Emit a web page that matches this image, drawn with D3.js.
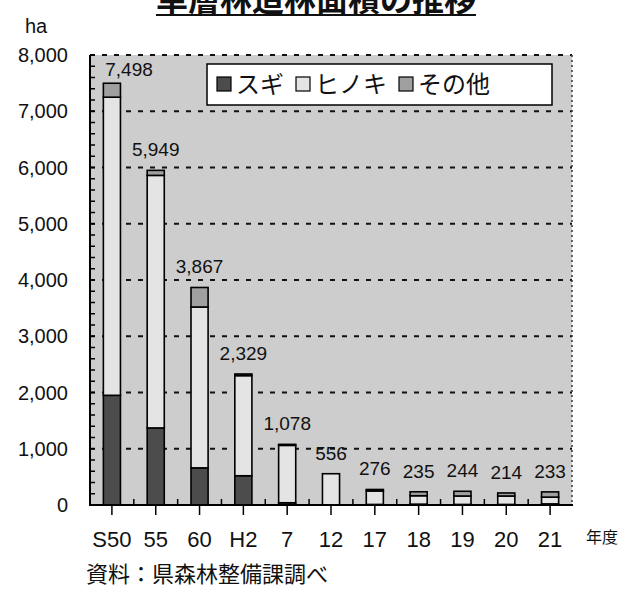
<!DOCTYPE html>
<html>
<head>
<meta charset="utf-8">
<script src="https://cdn.jsdelivr.net/npm/d3@7"></script>
<style>
    html, body { margin: 0; padding: 0; background: #fff; }
    svg { display: block; }
    .lat { font-family: "Liberation Sans", Arial, sans-serif; }
    .jp { font-family: "Noto Sans CJK JP", sans-serif; }
</style>
</head>
<body>
<svg id="chart" width="620" height="589"></svg>
<script>
// data (ha)
var categories = ['S50', '55', '60', 'H2', '7', '12', '17', '18', '19', '20', '21'];
var totals = [7498, 5949, 3867, 2329, 1078, 556, 276, 235, 244, 214, 233];
var sugi = [1950, 1370, 660, 520, 40, 0, 10, 15, 10, 10, 20];
var hinoki = [5300, 4490, 2860, 1780, 1020, 556, 240, 150, 150, 150, 120];
var sonota = [248, 89, 347, 29, 18, 0, 26, 70, 84, 54, 93];
var seriesNames = ['スギ', 'ヒノキ', 'その他'];
var yTicks = [0, 1000, 2000, 3000, 4000, 5000, 6000, 7000, 8000];

var svg = d3.select('#chart');
var x0 = 90, x1 = 572, yTop = 55, yBottom = 505;

var x = d3.scaleBand().domain(categories).range([x0, x1]).paddingInner(0.61).paddingOuter(0.305);
var y = d3.scaleLinear().domain([0, 8000]).range([yBottom, yTop]);
var fmt = d3.format(',');

var fills = { 'スギ': '#4c4c4c', 'ヒノキ': '#e4e4e4', 'その他': '#a0a0a0' };

// plot background
svg.append('rect')
    .attr('x', x0).attr('y', yTop)
    .attr('width', x1 - x0).attr('height', yBottom - yTop)
    .attr('fill', '#cdcdcd');

// dashed grid
svg.append('g').selectAll('line')
    .data(yTicks.filter(function (d) { return d > 0; }))
    .join('line')
    .attr('x1', x0).attr('x2', x1)
    .attr('y1', function (d) { return y(d); })
    .attr('y2', function (d) { return y(d); })
    .attr('stroke', '#111').attr('stroke-width', 2)
    .attr('stroke-dasharray', '5,7');

// right frame, dotted
svg.append('line')
    .attr('x1', x1).attr('x2', x1).attr('y1', yTop).attr('y2', yBottom)
    .attr('stroke', '#333').attr('stroke-width', 1.5)
    .attr('stroke-dasharray', '2,3');

// stacked bars
var rows = categories.map(function (c, i) {
    return { cat: c, 'スギ': sugi[i], 'ヒノキ': hinoki[i], 'その他': sonota[i] };
});
var stacked = d3.stack().keys(seriesNames)(rows);

svg.append('g').selectAll('g')
    .data(stacked)
    .join('g')
    .attr('fill', function (s) { return fills[s.key]; })
    .selectAll('rect')
    .data(function (s) { return s.filter(function (d) { return d[1] > d[0]; }); })
    .join('rect')
    .attr('x', function (d) { return x(d.data.cat); })
    .attr('width', x.bandwidth())
    .attr('y', function (d) { return y(d[1]); })
    .attr('height', function (d) { return y(d[0]) - y(d[1]); })
    .attr('stroke', '#000').attr('stroke-width', 1.6);

// total labels
svg.append('g').selectAll('text')
    .data(totals)
    .join('text')
    .attr('class', 'lat')
    .attr('x', function (d, i) {
        var cx = x(categories[i]) + x.bandwidth() / 2;
        return Math.max(cx, x0 + 39);
    })
    .attr('y', function (d) { return Math.max(y(d) - 14, yTop + 21); })
    .attr('text-anchor', 'middle')
    .attr('font-size', 19)
    .attr('fill', '#111')
    .text(function (d) { return fmt(d); });

// axes lines
svg.append('line').attr('x1', x0).attr('x2', x0).attr('y1', yTop).attr('y2', yBottom)
    .attr('stroke', '#000').attr('stroke-width', 2);
svg.append('line').attr('x1', x0 - 1).attr('x2', x1 + 1).attr('y1', yBottom).attr('y2', yBottom)
    .attr('stroke', '#000').attr('stroke-width', 2);

// y minor ticks (inside)
svg.append('g').selectAll('line')
    .data(d3.range(0, 8001, 200))
    .join('line')
    .attr('x1', x0).attr('x2', x0 + 5)
    .attr('y1', function (d) { return y(d); })
    .attr('y2', function (d) { return y(d); })
    .attr('stroke', '#000').attr('stroke-width', 1.5);

// y labels
svg.append('g').selectAll('text')
    .data(yTicks)
    .join('text')
    .attr('class', 'lat')
    .attr('x', 68)
    .attr('y', function (d) { return y(d) + 7; })
    .attr('text-anchor', 'end')
    .attr('font-size', 20)
    .attr('fill', '#111')
    .text(function (d) { return fmt(d); });

// x ticks: down at centres, short up between bars
svg.append('g').selectAll('line')
    .data(categories)
    .join('line')
    .attr('x1', function (d) { return x(d) + x.bandwidth() / 2; })
    .attr('x2', function (d) { return x(d) + x.bandwidth() / 2; })
    .attr('y1', yBottom).attr('y2', yBottom + 10)
    .attr('stroke', '#000').attr('stroke-width', 1.5);
svg.append('g').selectAll('line')
    .data(categories.slice(1))
    .join('line')
    .attr('x1', function (d) { return x(d) - x.step() * x.paddingInner() / 2; })
    .attr('x2', function (d) { return x(d) - x.step() * x.paddingInner() / 2; })
    .attr('y1', yBottom).attr('y2', yBottom - 6)
    .attr('stroke', '#000').attr('stroke-width', 1.5);

// x labels
svg.append('g').selectAll('text')
    .data(categories)
    .join('text')
    .attr('class', 'lat')
    .attr('x', function (d) { return x(d) + x.bandwidth() / 2; })
    .attr('y', 547)
    .attr('text-anchor', 'middle')
    .attr('font-size', 22)
    .attr('fill', '#111')
    .text(function (d) { return d; });

svg.append('text').attr('class', 'jp')
    .attr('x', 586).attr('y', 543)
    .attr('font-size', 16).attr('fill', '#111')
    .text('年度');

svg.append('text').attr('class', 'lat')
    .attr('x', 25).attr('y', 33)
    .attr('font-size', 20).attr('fill', '#111')
    .text('ha');

// title, cut off at the top edge as in the source
var title = svg.append('text').attr('class', 'jp')
    .attr('x', 316).attr('y', 11)
    .attr('text-anchor', 'middle')
    .attr('font-size', 32).attr('font-weight', 'bold')
    .attr('fill', '#111')
    .text('単層林造林面積の推移');
var tw = title.node().getComputedTextLength();
svg.append('rect')
    .attr('x', 316 - tw / 2).attr('y', 14)
    .attr('width', tw).attr('height', 2)
    .attr('fill', '#111');

svg.append('text').attr('class', 'jp')
    .attr('x', 86).attr('y', 582)
    .attr('font-size', 22).attr('fill', '#111')
    .text('資料：県森林整備課調べ');

// legend
var legend = svg.append('g').attr('transform', 'translate(207,64)');
legend.append('rect')
    .attr('width', 345).attr('height', 41)
    .attr('fill', '#fff').attr('stroke', '#000').attr('stroke-width', 1.5);
var lx = 10;
seriesNames.forEach(function (name) {
    legend.append('rect')
        .attr('x', lx).attr('y', 13)
        .attr('width', 14).attr('height', 14)
        .attr('fill', fills[name]).attr('stroke', '#000').attr('stroke-width', 1.2);
    var t = legend.append('text').attr('class', 'jp')
        .attr('x', lx + 19).attr('y', 29)
        .attr('font-size', 24).attr('fill', '#111')
        .text(name);
    lx += 19 + t.node().getComputedTextLength() + 12;
});
</script>
</body>
</html>
